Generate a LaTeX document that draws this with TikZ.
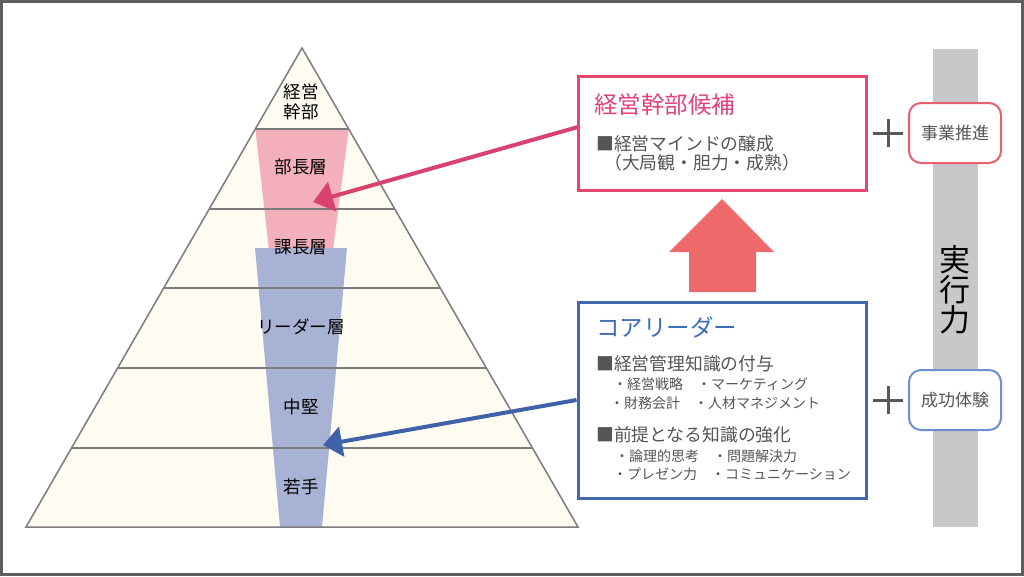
\documentclass[tikz,border=0pt]{standalone}
\usepackage{fontspec}
\setmainfont{Noto Sans CJK JP}
\usetikzlibrary{arrows.meta}
\definecolor{framecol}{HTML}{5E5E5E}
\definecolor{cream}{HTML}{FEFCF0}
\definecolor{pyrline}{HTML}{7C7C7C}
\definecolor{pinkfill}{HTML}{F3AFBA}
\definecolor{bluefill}{HTML}{A8B2D4}
\definecolor{pinkborder}{HTML}{E4476F}
\definecolor{pinktitle}{HTML}{E0437A}
\definecolor{pinkarrow}{HTML}{D7426F}
\definecolor{uparrowcol}{HTML}{EE6A6A}
\definecolor{blueborder}{HTML}{4169B1}
\definecolor{bluetitle}{HTML}{3F6DB8}
\definecolor{bluearrow}{HTML}{3F62A8}
\definecolor{barcol}{HTML}{C8C8C8}
\definecolor{coralborder}{HTML}{E8606F}
\definecolor{softblue}{HTML}{6E8FD0}
\definecolor{textgray}{HTML}{555555}
\definecolor{pluscol}{HTML}{585858}
\begin{document}
\begin{tikzpicture}[x=1pt,y=-1pt,
  lvl/.style={font=\fontsize{17.5}{20}\selectfont, text=black, align=center, inner sep=0pt},
  mainbox/.style={draw, line width=3pt, fill=white, minimum width=288pt, inner sep=0pt},
  boxtitle/.style={anchor=west, inner sep=0pt, font=\fontsize{23.5}{26}\selectfont},
  bodytext/.style={anchor=west, inner sep=0pt, text=textgray, font=\fontsize{17.8}{20}\selectfont},
  subtext/.style={anchor=west, inner sep=0pt, text=textgray, font=\fontsize{14}{16}\selectfont},
  tagbox/.style={draw, line width=2pt, fill=white, rounded corners=12pt, minimum width=92pt, minimum height=60pt, inner sep=0pt, text=textgray, font=\fontsize{17}{20}\selectfont},
  plusline/.style={draw=pluscol, line width=3pt},
  bigarrow/.style={line width=4pt}
]
\useasboundingbox (0,0) rectangle (1024,576);
\fill[white] (0,0) rectangle (1024,576);
\draw[framecol, line width=3pt] (1.5,1.5) rectangle (1022.5,574.5);

% pyramid
\fill[cream] (302,48) -- (578,527) -- (26,527) -- cycle;
\fill[pinkfill] (255.3,129) -- (348.7,129) -- (333,250) -- (269,250) -- cycle;
\fill[bluefill] (255,248) -- (347,248) -- (322,527) -- (280,527) -- cycle;
\draw[pyrline, line width=1.5pt] (255.3,129) -- (348.7,129);
\draw[pyrline, line width=1.5pt] (209.2,209) -- (394.8,209);
\draw[pyrline, line width=1.5pt] (163.7,288) -- (440.3,288);
\draw[pyrline, line width=1.5pt] (117.6,368) -- (486.4,368);
\draw[pyrline, line width=1.5pt] (71.5,448) -- (532.5,448);
\draw[pyrline, line width=1.5pt, line join=miter] (302,48) -- (578,527) -- (26,527) -- cycle;

\node[lvl] (l1) at (301,102) {経営\\幹部};
\node[lvl] (l2) at (301,167) {部長層};
\node[lvl] (l3) at (301,247) {課長層};
\node[lvl] (l4) at (301,327) {リーダー層};
\node[lvl] (l5) at (301,407) {中堅};
\node[lvl] (l6) at (301,487) {若手};

% pink box
\node[mainbox, draw=pinkborder, minimum height=114pt] (pk) at (722,133) {};
\node[boxtitle, text=pinktitle] (pkt) at (594,105) {経営幹部候補};
\node[bodytext] (pk1) at (596,144) {■経営マインドの醸成};
\node[bodytext] (pk2) at (604,163) {（大局観・胆力・成熟）};

% blue box
\node[mainbox, draw=blueborder, minimum height=196pt] (bl) at (722,400) {};
\node[boxtitle, text=bluetitle] (blt) at (596,327) {コアリーダー};
\node[bodytext] (b1) at (596,364) {■経営管理知識の付与};
\node[subtext] (b1a) at (613,384) {・経営戦略　・マーケティング};
\node[subtext] (b1b) at (610,403) {・財務会計　・人材マネジメント};
\node[bodytext] (b2) at (596,435) {■前提となる知識の強化};
\node[subtext] (b2a) at (615,456) {・論理的思考　・問題解決力};
\node[subtext] (b2b) at (613,474) {・プレゼン力　・コミュニケーション};

% up arrow
\fill[uparrowcol] (722,199) -- (774,252) -- (756,252) -- (756,292) -- (689,292) -- (689,252) -- (669,252) -- cycle;

% arrows into pyramid
\coordinate (pktip) at (313,202);
\coordinate (pkstart) at (578,127);
\draw[pinkarrow, bigarrow, -{Triangle[length=20pt,width=30pt]}] (pkstart) -- (pktip);
\coordinate (bltip) at (323,445);
\draw[bluearrow, bigarrow, -{Triangle[length=19pt,width=30pt]}] (bl.west) -- (bltip);

% right bar
\fill[barcol] (933,49) rectangle (978,527);
\node[inner sep=0pt, align=center, text=black, font=\fontsize{31}{30}\selectfont] (jk) at (955,290) {実\\行\\力};

\node[tagbox, draw=coralborder] (t1) at (955,133) {事業推進};
\node[tagbox, draw=softblue] (t2) at (955,400) {成功体験};

\draw[plusline] (873,133) -- (903,133) (888,119) -- (888,147);
\draw[plusline] (873,400) -- (903,400) (888,386) -- (888,414);
\end{tikzpicture}
\end{document}
